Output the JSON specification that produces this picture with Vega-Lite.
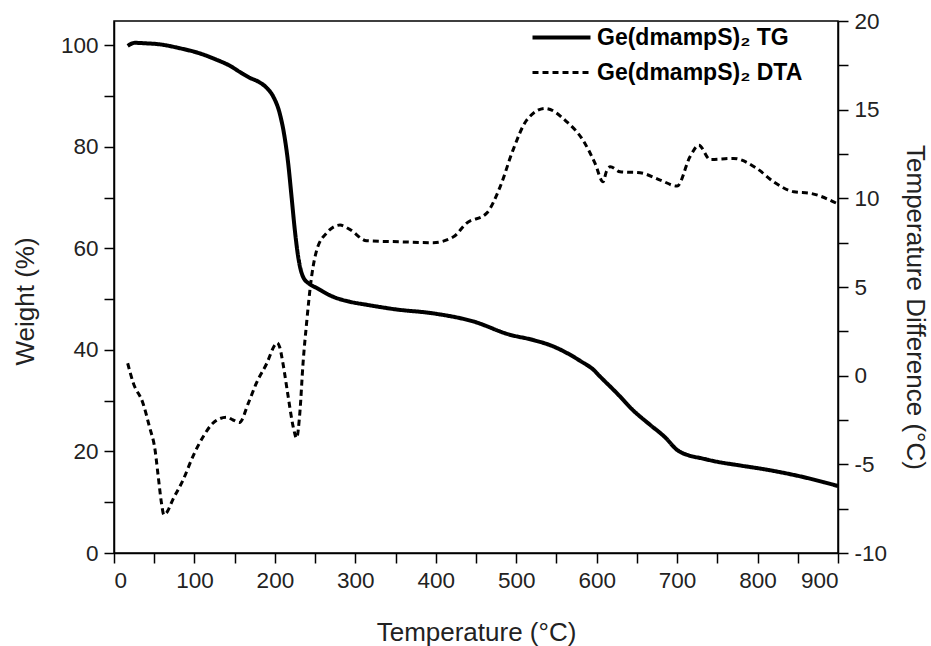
{
  "$schema": "https://vega.github.io/schema/vega-lite/v6.json",
  "width": 724,
  "height": 532,
  "autosize": "none",
  "padding": {"left": 114, "top": 21, "right": 93, "bottom": 93},
  "background": "white",
  "config": {
    "view": {"stroke": "black", "strokeWidth": 1.5},
    "font": "Liberation Sans",
    "axis": {
      "grid": false,
      "domainColor": "black",
      "domainWidth": 1.5,
      "tickColor": "black",
      "tickWidth": 1.5,
      "tickSize": 10,
      "labelFont": "Liberation Sans",
      "labelFontSize": 22.5,
      "labelColor": "#222",
      "labelPadding": 6,
      "labelOverlap": false,
      "titleFont": "Liberation Sans",
      "titleFontSize": 26,
      "titleFontWeight": "normal",
      "titleColor": "#222"
    }
  },
  "datasets": {
    "tg": [
      {"T": 17, "W": 99.9}, {"T": 26, "W": 100.5}, {"T": 40, "W": 100.4}, {"T": 57, "W": 100.2},
      {"T": 80, "W": 99.5}, {"T": 107, "W": 98.4}, {"T": 127, "W": 97.2}, {"T": 145, "W": 95.9},
      {"T": 156, "W": 94.8}, {"T": 169, "W": 93.6}, {"T": 180, "W": 92.8}, {"T": 190, "W": 91.6},
      {"T": 198, "W": 89.9}, {"T": 206, "W": 86.6}, {"T": 212, "W": 82.0}, {"T": 216.5, "W": 76.8},
      {"T": 220.7, "W": 70.2}, {"T": 224.8, "W": 63.6}, {"T": 228.9, "W": 58.4}, {"T": 235, "W": 54.4},
      {"T": 243, "W": 53.0}, {"T": 252, "W": 52.2}, {"T": 272, "W": 50.5}, {"T": 293, "W": 49.5},
      {"T": 314, "W": 48.9}, {"T": 350, "W": 48.0}, {"T": 397, "W": 47.2}, {"T": 447, "W": 45.6},
      {"T": 492, "W": 43.0}, {"T": 520, "W": 42.0}, {"T": 546, "W": 40.7}, {"T": 563, "W": 39.4},
      {"T": 580, "W": 37.8}, {"T": 596, "W": 36.1}, {"T": 604, "W": 34.8}, {"T": 625, "W": 31.5},
      {"T": 646, "W": 28.0}, {"T": 666, "W": 25.3}, {"T": 685, "W": 22.8}, {"T": 700, "W": 20.3},
      {"T": 715, "W": 19.2}, {"T": 729, "W": 18.7}, {"T": 749, "W": 18.0}, {"T": 780, "W": 17.2},
      {"T": 812, "W": 16.4}, {"T": 853, "W": 15.1}, {"T": 900, "W": 13.2}
    ],
    "dta": [
      {"T": 17, "D": 0.7}, {"T": 24, "D": -0.42}, {"T": 36, "D": -1.55}, {"T": 44, "D": -2.87},
      {"T": 51, "D": -4.18}, {"T": 55, "D": -5.69}, {"T": 59, "D": -7.18}, {"T": 62, "D": -7.84},
      {"T": 65, "D": -7.75}, {"T": 73, "D": -7.0}, {"T": 86, "D": -5.87}, {"T": 98, "D": -4.56},
      {"T": 111, "D": -3.43}, {"T": 123, "D": -2.68}, {"T": 140, "D": -2.34}, {"T": 148, "D": -2.5},
      {"T": 156, "D": -2.64}, {"T": 167, "D": -1.55}, {"T": 177, "D": -0.42}, {"T": 190, "D": 0.7},
      {"T": 200, "D": 1.73}, {"T": 203, "D": 1.85}, {"T": 206, "D": 1.6}, {"T": 210, "D": 0.7},
      {"T": 216.5, "D": -1.18}, {"T": 222.7, "D": -2.87}, {"T": 227, "D": -3.52}, {"T": 231, "D": -2.11},
      {"T": 235, "D": 0.7}, {"T": 239.4, "D": 2.96}, {"T": 245.6, "D": 5.58}, {"T": 252, "D": 7.08},
      {"T": 264, "D": 8.03}, {"T": 281, "D": 8.49}, {"T": 293, "D": 8.25}, {"T": 314, "D": 7.61},
      {"T": 355, "D": 7.55}, {"T": 397, "D": 7.5}, {"T": 422, "D": 7.83}, {"T": 438, "D": 8.59},
      {"T": 463, "D": 9.15}, {"T": 480, "D": 10.65}, {"T": 496, "D": 12.72}, {"T": 513, "D": 14.41},
      {"T": 536, "D": 15.07}, {"T": 563, "D": 14.31}, {"T": 583, "D": 13.28}, {"T": 598, "D": 11.97},
      {"T": 608, "D": 10.93}, {"T": 612, "D": 11.5}, {"T": 617, "D": 11.78}, {"T": 629, "D": 11.5},
      {"T": 654, "D": 11.44}, {"T": 679, "D": 11.03}, {"T": 700, "D": 10.69}, {"T": 716, "D": 12.34},
      {"T": 727, "D": 13.0}, {"T": 741, "D": 12.19}, {"T": 770, "D": 12.25}, {"T": 799, "D": 11.69},
      {"T": 820, "D": 10.93}, {"T": 845, "D": 10.37}, {"T": 866, "D": 10.28}, {"T": 900, "D": 9.68}
    ]
  },
  "layer": [
    {
      "data": {"name": "tg"},
      "mark": {"type": "line", "color": "black", "strokeWidth": 4, "interpolate": "monotone"},
      "encoding": {
        "x": {
          "field": "T", "type": "quantitative",
          "scale": {"domain": [0, 900], "nice": false},
          "axis": {
            "title": "Temperature (°C)",
            "values": [0, 50, 100, 150, 200, 250, 300, 350, 400, 450, 500, 550, 600, 650, 700, 750, 800, 850, 900],
            "labelExpr": "datum.value % 100 === 0 ? '' + datum.value : ''",
            "titlePadding": 28,
            "encode": {"ticks": {"update": {"y2": {"signal": "datum.value % 100 === 0 ? 10 : 6"}}}}
          }
        },
        "y": {
          "field": "W", "type": "quantitative",
          "scale": {"domain": [0, 104.8], "nice": false, "zero": false},
          "axis": {
            "title": "Weight (%)",
            "orient": "left",
            "values": [0, 10, 20, 30, 40, 50, 60, 70, 80, 90, 100],
            "labelExpr": "datum.value % 20 === 0 ? '' + datum.value : ''",
            "titlePadding": 22,
            "titleY": 280,
            "encode": {"ticks": {"update": {"x2": {"signal": "datum.value % 20 === 0 ? -10 : -6"}}}}
          }
        },
        "strokeDash": {
          "datum": "Ge(dmampS)₂ TG",
          "scale": {"domain": ["Ge(dmampS)₂ TG", "Ge(dmampS)₂ DTA"], "range": [[1, 0], [6, 4]]},
          "legend": {
            "title": null,
            "orient": "none",
            "legendX": 436,
            "legendY": 5,
            "padding": 0,
            "symbolType": "M-5.8,0H5.8",
            "symbolSize": 100,
            "symbolStrokeColor": "black",
            "symbolStrokeWidth": 3.5,
            "labelFont": "Liberation Sans",
            "labelFontSize": 23,
            "labelFontWeight": "bold",
            "labelColor": "black",
            "labelLimit": 0,
            "labelOffset": 24,
            "rowPadding": 11,
            "encode": {"symbols": {"update": {"strokeWidth": {"signal": "datum.value === 'Ge(dmampS)₂ TG' ? 4 : 3"}}}}
          }
        }
      }
    },
    {
      "data": {"name": "dta"},
      "mark": {"type": "line", "color": "black", "strokeWidth": 3, "interpolate": "monotone"},
      "encoding": {
        "x": {"field": "T", "type": "quantitative"},
        "y": {
          "field": "D", "type": "quantitative",
          "scale": {"domain": [-10, 20], "nice": false, "zero": false},
          "axis": {
            "title": "Temperature Difference (°C)",
            "orient": "right",
            "values": [-10, -7.5, -5, -2.5, 0, 2.5, 5, 7.5, 10, 12.5, 15, 17.5, 20],
            "labelExpr": "datum.value % 5 === 0 ? '' + datum.value : ''",
            "titlePadding": 15,
            "titleY": 286,
            "encode": {"ticks": {"update": {"x2": {"signal": "datum.value % 5 === 0 ? 10 : 6"}}}}
          }
        },
        "strokeDash": {"datum": "Ge(dmampS)₂ DTA"}
      }
    }
  ],
  "resolve": {"scale": {"y": "independent"}}
}
